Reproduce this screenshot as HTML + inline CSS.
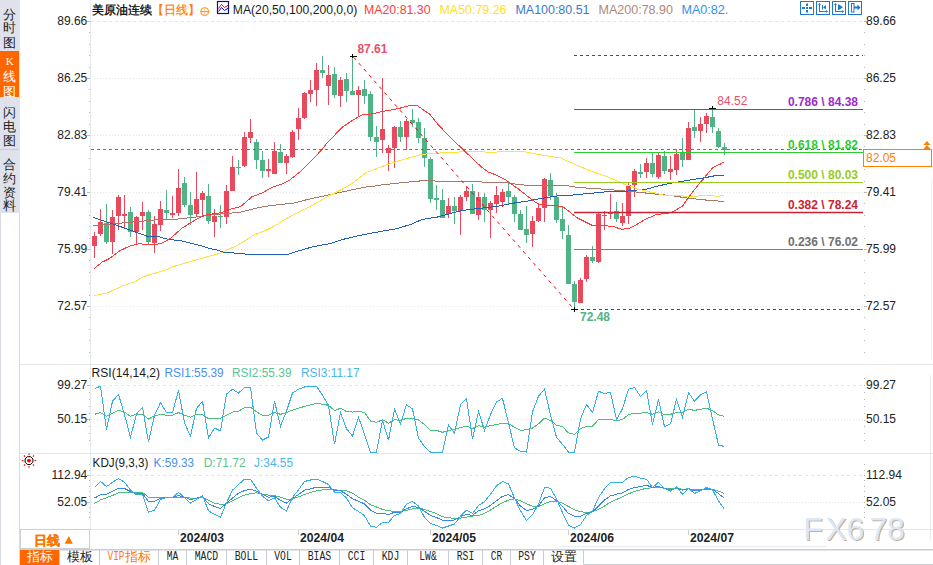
<!DOCTYPE html>
<html><head><meta charset="utf-8"><style>html,body{margin:0;padding:0;width:933px;height:565px;overflow:hidden;background:#fff;font-family:"Liberation Sans",sans-serif}</style></head><body>
<svg width="933" height="565" viewBox="0 0 933 565" style="position:absolute;left:0;top:0;font-family:"Liberation Sans", sans-serif">
<rect x="0" y="0" width="933" height="565" fill="#fff"/>
<rect x="0" y="0" width="20" height="213" fill="#dfe2ea"/>
<rect x="0" y="51" width="19" height="46" fill="#ff6600"/>
<rect x="0" y="149" width="19" height="1" fill="#c9cdd6"/>
<rect x="0" y="213" width="1" height="352" fill="#d8dce4"/>
<rect x="19" y="213" width="1" height="352" fill="#d8dce4"/>
<text x="9.8" y="18.5" font-size="13" fill="#1e1e1e" text-anchor="middle">分</text>
<text x="9.8" y="32" font-size="13" fill="#1e1e1e" text-anchor="middle">时</text>
<text x="9.8" y="46.5" font-size="13" fill="#1e1e1e" text-anchor="middle">图</text>
<text x="9.8" y="65.3" font-size="11" fill="#fff" text-anchor="middle" font-family="Liberation Serif, serif">K</text>
<text x="9.8" y="81" font-size="13" fill="#fff" text-anchor="middle">线</text>
<text x="9.8" y="95.5" font-size="13" fill="#fff" text-anchor="middle">图</text>
<text x="9.8" y="116.5" font-size="13" fill="#1e1e1e" text-anchor="middle">闪</text>
<text x="9.8" y="130.5" font-size="13" fill="#1e1e1e" text-anchor="middle">电</text>
<text x="9.8" y="144.5" font-size="13" fill="#1e1e1e" text-anchor="middle">图</text>
<text x="9.8" y="168.5" font-size="13" fill="#1e1e1e" text-anchor="middle">合</text>
<text x="9.8" y="182.5" font-size="13" fill="#1e1e1e" text-anchor="middle">约</text>
<text x="9.8" y="196.5" font-size="13" fill="#1e1e1e" text-anchor="middle">资</text>
<text x="9.8" y="210" font-size="13" fill="#1e1e1e" text-anchor="middle">料</text>
<rect x="20" y="364" width="913" height="1" fill="#e3e7ec"/>
<rect x="20" y="453" width="913" height="1" fill="#e3e7ec"/>
<rect x="20" y="529" width="913" height="1" fill="#e3e7ec"/>
<rect x="90" y="0" width="1" height="529" fill="#e6eaef"/>
<rect x="931" y="180" width="1" height="180" fill="#eef0f3"/>
<rect x="930" y="375" width="1" height="165" fill="#e8ebf0"/>
<line x1="91" y1="21.5" x2="864" y2="21.5" stroke="#e1e6eb" stroke-width="1" stroke-dasharray="3 3"/>
<rect x="87" y="21" width="3" height="1" fill="#b8bec8"/>
<rect x="864" y="21" width="3" height="1" fill="#b8bec8"/>
<text x="87.3" y="25" font-size="12" fill="#222" text-anchor="end">89.66</text>
<text x="866" y="25" font-size="12" fill="#222">89.66</text>
<line x1="91" y1="78.5" x2="864" y2="78.5" stroke="#e1e6eb" stroke-width="1" stroke-dasharray="1 2"/>
<rect x="87" y="78" width="3" height="1" fill="#b8bec8"/>
<rect x="864" y="78" width="3" height="1" fill="#b8bec8"/>
<text x="87.3" y="82" font-size="12" fill="#222" text-anchor="end">86.25</text>
<text x="866" y="82" font-size="12" fill="#222">86.25</text>
<line x1="91" y1="135.5" x2="864" y2="135.5" stroke="#e1e6eb" stroke-width="1" stroke-dasharray="1 2"/>
<rect x="87" y="135" width="3" height="1" fill="#b8bec8"/>
<rect x="864" y="135" width="3" height="1" fill="#b8bec8"/>
<text x="87.3" y="139" font-size="12" fill="#222" text-anchor="end">82.83</text>
<text x="866" y="139" font-size="12" fill="#222">82.83</text>
<line x1="91" y1="192.5" x2="864" y2="192.5" stroke="#e1e6eb" stroke-width="1" stroke-dasharray="1 2"/>
<rect x="87" y="192" width="3" height="1" fill="#b8bec8"/>
<rect x="864" y="192" width="3" height="1" fill="#b8bec8"/>
<text x="87.3" y="196" font-size="12" fill="#222" text-anchor="end">79.41</text>
<text x="866" y="196" font-size="12" fill="#222">79.41</text>
<line x1="91" y1="249.5" x2="864" y2="249.5" stroke="#e1e6eb" stroke-width="1" stroke-dasharray="1 2"/>
<rect x="87" y="249" width="3" height="1" fill="#b8bec8"/>
<rect x="864" y="249" width="3" height="1" fill="#b8bec8"/>
<text x="87.3" y="253" font-size="12" fill="#222" text-anchor="end">75.99</text>
<text x="866" y="253" font-size="12" fill="#222">75.99</text>
<line x1="91" y1="306.5" x2="864" y2="306.5" stroke="#e1e6eb" stroke-width="1" stroke-dasharray="1 2"/>
<rect x="87" y="306" width="3" height="1" fill="#b8bec8"/>
<rect x="864" y="306" width="3" height="1" fill="#b8bec8"/>
<text x="87.3" y="310" font-size="12" fill="#222" text-anchor="end">72.57</text>
<text x="866" y="310" font-size="12" fill="#222">72.57</text>
<rect x="89" y="21" width="1" height="1" fill="#b0b6c0"/>
<rect x="864" y="21" width="1" height="1" fill="#b0b6c0"/>
<rect x="89" y="32" width="1" height="1" fill="#b0b6c0"/>
<rect x="864" y="32" width="1" height="1" fill="#b0b6c0"/>
<rect x="89" y="44" width="1" height="1" fill="#b0b6c0"/>
<rect x="864" y="44" width="1" height="1" fill="#b0b6c0"/>
<rect x="89" y="55" width="1" height="1" fill="#b0b6c0"/>
<rect x="864" y="55" width="1" height="1" fill="#b0b6c0"/>
<rect x="89" y="67" width="1" height="1" fill="#b0b6c0"/>
<rect x="864" y="67" width="1" height="1" fill="#b0b6c0"/>
<rect x="89" y="78" width="1" height="1" fill="#b0b6c0"/>
<rect x="864" y="78" width="1" height="1" fill="#b0b6c0"/>
<rect x="89" y="89" width="1" height="1" fill="#b0b6c0"/>
<rect x="864" y="89" width="1" height="1" fill="#b0b6c0"/>
<rect x="89" y="101" width="1" height="1" fill="#b0b6c0"/>
<rect x="864" y="101" width="1" height="1" fill="#b0b6c0"/>
<rect x="89" y="112" width="1" height="1" fill="#b0b6c0"/>
<rect x="864" y="112" width="1" height="1" fill="#b0b6c0"/>
<rect x="89" y="124" width="1" height="1" fill="#b0b6c0"/>
<rect x="864" y="124" width="1" height="1" fill="#b0b6c0"/>
<rect x="89" y="135" width="1" height="1" fill="#b0b6c0"/>
<rect x="864" y="135" width="1" height="1" fill="#b0b6c0"/>
<rect x="89" y="146" width="1" height="1" fill="#b0b6c0"/>
<rect x="864" y="146" width="1" height="1" fill="#b0b6c0"/>
<rect x="89" y="158" width="1" height="1" fill="#b0b6c0"/>
<rect x="864" y="158" width="1" height="1" fill="#b0b6c0"/>
<rect x="89" y="169" width="1" height="1" fill="#b0b6c0"/>
<rect x="864" y="169" width="1" height="1" fill="#b0b6c0"/>
<rect x="89" y="181" width="1" height="1" fill="#b0b6c0"/>
<rect x="864" y="181" width="1" height="1" fill="#b0b6c0"/>
<rect x="89" y="192" width="1" height="1" fill="#b0b6c0"/>
<rect x="864" y="192" width="1" height="1" fill="#b0b6c0"/>
<rect x="89" y="203" width="1" height="1" fill="#b0b6c0"/>
<rect x="864" y="203" width="1" height="1" fill="#b0b6c0"/>
<rect x="89" y="215" width="1" height="1" fill="#b0b6c0"/>
<rect x="864" y="215" width="1" height="1" fill="#b0b6c0"/>
<rect x="89" y="226" width="1" height="1" fill="#b0b6c0"/>
<rect x="864" y="226" width="1" height="1" fill="#b0b6c0"/>
<rect x="89" y="238" width="1" height="1" fill="#b0b6c0"/>
<rect x="864" y="238" width="1" height="1" fill="#b0b6c0"/>
<rect x="89" y="249" width="1" height="1" fill="#b0b6c0"/>
<rect x="864" y="249" width="1" height="1" fill="#b0b6c0"/>
<rect x="89" y="260" width="1" height="1" fill="#b0b6c0"/>
<rect x="864" y="260" width="1" height="1" fill="#b0b6c0"/>
<rect x="89" y="272" width="1" height="1" fill="#b0b6c0"/>
<rect x="864" y="272" width="1" height="1" fill="#b0b6c0"/>
<rect x="89" y="283" width="1" height="1" fill="#b0b6c0"/>
<rect x="864" y="283" width="1" height="1" fill="#b0b6c0"/>
<rect x="89" y="295" width="1" height="1" fill="#b0b6c0"/>
<rect x="864" y="295" width="1" height="1" fill="#b0b6c0"/>
<rect x="89" y="306" width="1" height="1" fill="#b0b6c0"/>
<rect x="864" y="306" width="1" height="1" fill="#b0b6c0"/>
<rect x="89" y="317" width="1" height="1" fill="#b0b6c0"/>
<rect x="864" y="317" width="1" height="1" fill="#b0b6c0"/>
<rect x="89" y="329" width="1" height="1" fill="#b0b6c0"/>
<rect x="864" y="329" width="1" height="1" fill="#b0b6c0"/>
<rect x="89" y="340" width="1" height="1" fill="#b0b6c0"/>
<rect x="864" y="340" width="1" height="1" fill="#b0b6c0"/>
<rect x="89" y="352" width="1" height="1" fill="#b0b6c0"/>
<rect x="864" y="352" width="1" height="1" fill="#b0b6c0"/>
<line x1="91" y1="385.5" x2="864" y2="385.5" stroke="#e1e6eb" stroke-width="1" stroke-dasharray="3 3"/>
<rect x="87" y="385" width="3" height="1" fill="#b8bec8"/>
<text x="87.3" y="389" font-size="12" fill="#222" text-anchor="end">99.27</text>
<text x="866" y="389" font-size="12" fill="#222">99.27</text>
<line x1="91" y1="419.5" x2="864" y2="419.5" stroke="#e1e6eb" stroke-width="1" stroke-dasharray="1 2"/>
<rect x="87" y="419" width="3" height="1" fill="#b8bec8"/>
<text x="87.3" y="423" font-size="12" fill="#222" text-anchor="end">50.15</text>
<text x="866" y="423" font-size="12" fill="#222">50.15</text>
<rect x="89" y="378" width="1" height="1" fill="#b0b6c0"/>
<rect x="864" y="378" width="1" height="1" fill="#b0b6c0"/>
<rect x="89" y="385" width="1" height="1" fill="#b0b6c0"/>
<rect x="864" y="385" width="1" height="1" fill="#b0b6c0"/>
<rect x="89" y="392" width="1" height="1" fill="#b0b6c0"/>
<rect x="864" y="392" width="1" height="1" fill="#b0b6c0"/>
<rect x="89" y="399" width="1" height="1" fill="#b0b6c0"/>
<rect x="864" y="399" width="1" height="1" fill="#b0b6c0"/>
<rect x="89" y="406" width="1" height="1" fill="#b0b6c0"/>
<rect x="864" y="406" width="1" height="1" fill="#b0b6c0"/>
<rect x="89" y="413" width="1" height="1" fill="#b0b6c0"/>
<rect x="864" y="413" width="1" height="1" fill="#b0b6c0"/>
<rect x="89" y="420" width="1" height="1" fill="#b0b6c0"/>
<rect x="864" y="420" width="1" height="1" fill="#b0b6c0"/>
<rect x="89" y="426" width="1" height="1" fill="#b0b6c0"/>
<rect x="864" y="426" width="1" height="1" fill="#b0b6c0"/>
<rect x="89" y="433" width="1" height="1" fill="#b0b6c0"/>
<rect x="864" y="433" width="1" height="1" fill="#b0b6c0"/>
<rect x="89" y="440" width="1" height="1" fill="#b0b6c0"/>
<rect x="864" y="440" width="1" height="1" fill="#b0b6c0"/>
<line x1="91" y1="475.5" x2="864" y2="475.5" stroke="#e1e6eb" stroke-width="1" stroke-dasharray="3 3"/>
<rect x="87" y="475" width="3" height="1" fill="#b8bec8"/>
<text x="87.3" y="479" font-size="12" fill="#222" text-anchor="end">112.94</text>
<text x="866" y="479" font-size="12" fill="#222">112.94</text>
<line x1="91" y1="502.5" x2="864" y2="502.5" stroke="#e1e6eb" stroke-width="1" stroke-dasharray="1 2"/>
<rect x="87" y="502" width="3" height="1" fill="#b8bec8"/>
<text x="87.3" y="506" font-size="12" fill="#222" text-anchor="end">52.05</text>
<text x="866" y="506" font-size="12" fill="#222">52.05</text>
<rect x="89" y="464" width="1" height="1" fill="#b0b6c0"/>
<rect x="864" y="464" width="1" height="1" fill="#b0b6c0"/>
<rect x="89" y="470" width="1" height="1" fill="#b0b6c0"/>
<rect x="864" y="470" width="1" height="1" fill="#b0b6c0"/>
<rect x="89" y="475" width="1" height="1" fill="#b0b6c0"/>
<rect x="864" y="475" width="1" height="1" fill="#b0b6c0"/>
<rect x="89" y="480" width="1" height="1" fill="#b0b6c0"/>
<rect x="864" y="480" width="1" height="1" fill="#b0b6c0"/>
<rect x="89" y="486" width="1" height="1" fill="#b0b6c0"/>
<rect x="864" y="486" width="1" height="1" fill="#b0b6c0"/>
<rect x="89" y="491" width="1" height="1" fill="#b0b6c0"/>
<rect x="864" y="491" width="1" height="1" fill="#b0b6c0"/>
<rect x="89" y="496" width="1" height="1" fill="#b0b6c0"/>
<rect x="864" y="496" width="1" height="1" fill="#b0b6c0"/>
<rect x="89" y="502" width="1" height="1" fill="#b0b6c0"/>
<rect x="864" y="502" width="1" height="1" fill="#b0b6c0"/>
<rect x="89" y="507" width="1" height="1" fill="#b0b6c0"/>
<rect x="864" y="507" width="1" height="1" fill="#b0b6c0"/>
<rect x="89" y="512" width="1" height="1" fill="#b0b6c0"/>
<rect x="864" y="512" width="1" height="1" fill="#b0b6c0"/>
<rect x="89" y="517" width="1" height="1" fill="#b0b6c0"/>
<rect x="864" y="517" width="1" height="1" fill="#b0b6c0"/>
<text x="92" y="14" font-size="12" fill="#000" stroke="#000" stroke-width="0.3">美原油连续</text>
<text x="152" y="14" font-size="12" fill="#ff7a00" stroke="#ff7a00" stroke-width="0.2">【日线】</text>
<circle cx="204.7" cy="11.6" r="4" fill="none" stroke="#ff8a10" stroke-width="1"/>
<line x1="200.7" y1="11.6" x2="208.7" y2="11.6" stroke="#ff8a10" stroke-width="1"/>
<line x1="204.7" y1="7.6" x2="204.7" y2="15.6" stroke="#ffb060" stroke-width="0.7"/>
<rect x="217.5" y="1.5" width="11" height="12" fill="#fff" stroke="#101080" stroke-width="1.2"/>
<polyline points="218.5,8.5 221.5,4.3 224.5,7.5 228,5.4" fill="none" stroke="#ff0000" stroke-width="1"/>
<polyline points="218.5,11.5 221.5,7.5 224.5,10.5 228,8.3" fill="none" stroke="#0000ff" stroke-width="1"/>
<text x="232.8" y="14" font-size="12" fill="#1a1a1a" textLength="124.5" lengthAdjust="spacingAndGlyphs">MA(20,50,100,200,0,0)</text>
<text x="364" y="14" font-size="12" fill="#ff3b3b" textLength="66.5" lengthAdjust="spacingAndGlyphs">MA20:81.30</text>
<text x="439.5" y="14" font-size="12" fill="#ffe02a" textLength="67" lengthAdjust="spacingAndGlyphs">MA50:79.26</text>
<text x="515.5" y="14" font-size="12" fill="#3a78c8" textLength="74" lengthAdjust="spacingAndGlyphs">MA100:80.51</text>
<text x="598.5" y="14" font-size="12" fill="#b08878" textLength="74.5" lengthAdjust="spacingAndGlyphs">MA200:78.90</text>
<text x="681.5" y="14" font-size="12" fill="#3090f0" textLength="46.8" lengthAdjust="spacingAndGlyphs">MA0:82.</text>
<rect x="800.5" y="1.5" width="13" height="13" fill="#fff" stroke="#1f78d0" stroke-width="1"/>
<rect x="816.5" y="1.5" width="13" height="13" fill="#fff" stroke="#1f78d0" stroke-width="1"/>
<rect x="832.5" y="1.5" width="13" height="13" fill="#fff" stroke="#1f78d0" stroke-width="1"/>
<rect x="848.5" y="1.5" width="13" height="13" fill="#fff" stroke="#1f78d0" stroke-width="1"/>
<rect x="806" y="3.5" width="2" height="2.5" fill="#1f78d0"/><rect x="806" y="10" width="2" height="2.5" fill="#1f78d0"/>
<rect x="802" y="7" width="3" height="2" fill="#1f78d0"/><rect x="809" y="7" width="3" height="2" fill="#1f78d0"/><rect x="806" y="7" width="2" height="2" fill="#1f78d0"/>
<g stroke="#1f78d0" stroke-width="1" fill="none"><line x1="819.5" y1="3.5" x2="819.5" y2="12"/><line x1="819" y1="11.5" x2="827.5" y2="11.5"/><line x1="822.5" y1="5" x2="822.5" y2="9.5"/></g>
<polygon points="818,5 819.5,3 821,5" fill="#1f78d0"/><polygon points="826,10 828,11.5 826,13" fill="#1f78d0"/><polygon points="823,7.2 826,5 826,9.5" fill="#1f78d0"/>
<g stroke="#1f78d0" stroke-width="1" fill="none"><line x1="835.5" y1="3.5" x2="835.5" y2="12"/><line x1="835" y1="11.5" x2="843.5" y2="11.5"/><line x1="838.5" y1="4.5" x2="838.5" y2="10"/></g>
<polygon points="834,5 835.5,3 837,5" fill="#1f78d0"/><polygon points="842,10 844,11.5 842,13" fill="#1f78d0"/><polygon points="839,4.5 843,7.2 839,10" fill="#1f78d0"/>
<g stroke="#1f78d0" stroke-width="1" fill="none"><rect x="851.5" y="3.5" width="2.5" height="8.5"/></g>
<rect x="854" y="6.5" width="4" height="2" fill="#1f78d0"/><polygon points="857.5,4.5 860.5,7.5 857.5,10.5" fill="#1f78d0"/>
<rect x="94" y="232" width="1" height="26" fill="#e9495d"/>
<rect x="92" y="236" width="5" height="10" fill="#e9495d"/>
<rect x="100" y="209" width="1" height="27" fill="#e9495d"/>
<rect x="98" y="222" width="5" height="12" fill="#e9495d"/>
<rect x="106" y="204" width="1" height="40" fill="#4fb386"/>
<rect x="104" y="223" width="5" height="19" fill="#4fb386"/>
<rect x="112" y="210" width="1" height="44" fill="#e9495d"/>
<rect x="110" y="217" width="5" height="25" fill="#e9495d"/>
<rect x="118" y="195" width="1" height="35" fill="#e9495d"/>
<rect x="116" y="197" width="5" height="19" fill="#e9495d"/>
<rect x="124" y="195" width="1" height="34" fill="#e9495d"/>
<rect x="122" y="214" width="5" height="2" fill="#e9495d"/>
<rect x="130" y="207" width="1" height="30" fill="#4fb386"/>
<rect x="128" y="212" width="5" height="20" fill="#4fb386"/>
<rect x="136" y="216" width="1" height="28" fill="#e9495d"/>
<rect x="134" y="217" width="5" height="15" fill="#e9495d"/>
<rect x="142" y="202" width="1" height="28" fill="#e9495d"/>
<rect x="140" y="212" width="5" height="4" fill="#e9495d"/>
<rect x="148" y="210" width="1" height="34" fill="#4fb386"/>
<rect x="146" y="212" width="5" height="30" fill="#4fb386"/>
<rect x="154" y="216" width="1" height="37" fill="#e9495d"/>
<rect x="152" y="224" width="5" height="19" fill="#e9495d"/>
<rect x="160" y="201" width="1" height="30" fill="#e9495d"/>
<rect x="158" y="209" width="5" height="16" fill="#e9495d"/>
<rect x="166" y="190" width="1" height="29" fill="#4fb386"/>
<rect x="164" y="210" width="5" height="3" fill="#4fb386"/>
<rect x="172" y="196" width="1" height="22" fill="#e9495d"/>
<rect x="170" y="213" width="5" height="2" fill="#e9495d"/>
<rect x="178" y="169" width="1" height="47" fill="#e9495d"/>
<rect x="176" y="188" width="5" height="25" fill="#e9495d"/>
<rect x="184" y="177" width="1" height="30" fill="#4fb386"/>
<rect x="182" y="183" width="5" height="22" fill="#4fb386"/>
<rect x="190" y="192" width="1" height="33" fill="#4fb386"/>
<rect x="188" y="205" width="5" height="10" fill="#4fb386"/>
<rect x="196" y="172" width="1" height="45" fill="#e9495d"/>
<rect x="194" y="199" width="5" height="15" fill="#e9495d"/>
<rect x="202" y="191" width="1" height="25" fill="#e9495d"/>
<rect x="200" y="193" width="5" height="7" fill="#e9495d"/>
<rect x="208" y="184" width="1" height="40" fill="#4fb386"/>
<rect x="206" y="196" width="5" height="25" fill="#4fb386"/>
<rect x="214" y="209" width="1" height="28" fill="#e9495d"/>
<rect x="212" y="216" width="5" height="6" fill="#e9495d"/>
<rect x="220" y="205" width="1" height="23" fill="#4fb386"/>
<rect x="218" y="216" width="5" height="1" fill="#4fb386"/>
<rect x="226" y="185" width="1" height="39" fill="#e9495d"/>
<rect x="224" y="191" width="5" height="26" fill="#e9495d"/>
<rect x="232" y="156" width="1" height="35" fill="#e9495d"/>
<rect x="230" y="167" width="5" height="24" fill="#e9495d"/>
<rect x="238" y="160" width="1" height="15" fill="#4fb386"/>
<rect x="236" y="167" width="5" height="1" fill="#4fb386"/>
<rect x="244" y="132" width="1" height="35" fill="#e9495d"/>
<rect x="242" y="137" width="5" height="29" fill="#e9495d"/>
<rect x="250" y="119" width="1" height="24" fill="#e9495d"/>
<rect x="248" y="132" width="5" height="6" fill="#e9495d"/>
<rect x="256" y="139" width="1" height="30" fill="#4fb386"/>
<rect x="254" y="142" width="5" height="18" fill="#4fb386"/>
<rect x="262" y="151" width="1" height="27" fill="#4fb386"/>
<rect x="260" y="160" width="5" height="11" fill="#4fb386"/>
<rect x="268" y="159" width="1" height="18" fill="#e9495d"/>
<rect x="266" y="169" width="5" height="2" fill="#e9495d"/>
<rect x="274" y="142" width="1" height="32" fill="#e9495d"/>
<rect x="272" y="151" width="5" height="23" fill="#e9495d"/>
<rect x="280" y="144" width="1" height="19" fill="#4fb386"/>
<rect x="278" y="152" width="5" height="11" fill="#4fb386"/>
<rect x="286" y="154" width="1" height="20" fill="#e9495d"/>
<rect x="284" y="156" width="5" height="7" fill="#e9495d"/>
<rect x="292" y="130" width="1" height="28" fill="#e9495d"/>
<rect x="290" y="132" width="5" height="25" fill="#e9495d"/>
<rect x="298" y="108" width="1" height="32" fill="#e9495d"/>
<rect x="296" y="118" width="5" height="11" fill="#e9495d"/>
<rect x="304" y="92" width="1" height="27" fill="#e9495d"/>
<rect x="302" y="93" width="5" height="25" fill="#e9495d"/>
<rect x="310" y="80" width="1" height="22" fill="#e9495d"/>
<rect x="308" y="90" width="5" height="4" fill="#e9495d"/>
<rect x="316" y="63" width="1" height="43" fill="#e9495d"/>
<rect x="314" y="70" width="5" height="20" fill="#e9495d"/>
<rect x="322" y="56" width="1" height="22" fill="#4fb386"/>
<rect x="320" y="70" width="5" height="3" fill="#4fb386"/>
<rect x="328" y="65" width="1" height="40" fill="#e9495d"/>
<rect x="326" y="75" width="5" height="11" fill="#e9495d"/>
<rect x="334" y="67" width="1" height="31" fill="#4fb386"/>
<rect x="332" y="74" width="5" height="21" fill="#4fb386"/>
<rect x="340" y="77" width="1" height="30" fill="#e9495d"/>
<rect x="338" y="80" width="5" height="16" fill="#e9495d"/>
<rect x="346" y="73" width="1" height="29" fill="#4fb386"/>
<rect x="344" y="79" width="5" height="12" fill="#4fb386"/>
<rect x="352" y="56" width="1" height="39" fill="#4fb386"/>
<rect x="350" y="91" width="5" height="4" fill="#4fb386"/>
<rect x="358" y="86" width="1" height="31" fill="#e9495d"/>
<rect x="356" y="90" width="5" height="5" fill="#e9495d"/>
<rect x="364" y="80" width="1" height="24" fill="#4fb386"/>
<rect x="362" y="89" width="5" height="7" fill="#4fb386"/>
<rect x="370" y="91" width="1" height="50" fill="#4fb386"/>
<rect x="368" y="94" width="5" height="43" fill="#4fb386"/>
<rect x="376" y="126" width="1" height="31" fill="#4fb386"/>
<rect x="374" y="137" width="5" height="5" fill="#4fb386"/>
<rect x="382" y="78" width="1" height="75" fill="#e9495d"/>
<rect x="380" y="129" width="5" height="11" fill="#e9495d"/>
<rect x="388" y="145" width="1" height="26" fill="#e9495d"/>
<rect x="386" y="148" width="5" height="5" fill="#e9495d"/>
<rect x="394" y="126" width="1" height="42" fill="#e9495d"/>
<rect x="392" y="127" width="5" height="21" fill="#e9495d"/>
<rect x="400" y="121" width="1" height="21" fill="#4fb386"/>
<rect x="398" y="127" width="5" height="10" fill="#4fb386"/>
<rect x="406" y="119" width="1" height="31" fill="#e9495d"/>
<rect x="404" y="121" width="5" height="16" fill="#e9495d"/>
<rect x="412" y="109" width="1" height="18" fill="#4fb386"/>
<rect x="410" y="120" width="5" height="3" fill="#4fb386"/>
<rect x="418" y="118" width="1" height="25" fill="#4fb386"/>
<rect x="416" y="122" width="5" height="16" fill="#4fb386"/>
<rect x="424" y="128" width="1" height="39" fill="#4fb386"/>
<rect x="422" y="138" width="5" height="20" fill="#4fb386"/>
<rect x="430" y="157" width="1" height="46" fill="#4fb386"/>
<rect x="428" y="159" width="5" height="40" fill="#4fb386"/>
<rect x="436" y="185" width="1" height="25" fill="#4fb386"/>
<rect x="434" y="198" width="5" height="2" fill="#4fb386"/>
<rect x="442" y="189" width="1" height="29" fill="#4fb386"/>
<rect x="440" y="200" width="5" height="18" fill="#4fb386"/>
<rect x="448" y="198" width="1" height="20" fill="#e9495d"/>
<rect x="446" y="206" width="5" height="8" fill="#e9495d"/>
<rect x="454" y="197" width="1" height="27" fill="#4fb386"/>
<rect x="452" y="206" width="5" height="5" fill="#4fb386"/>
<rect x="460" y="195" width="1" height="40" fill="#e9495d"/>
<rect x="458" y="197" width="5" height="14" fill="#e9495d"/>
<rect x="466" y="186" width="1" height="15" fill="#e9495d"/>
<rect x="464" y="191" width="5" height="6" fill="#e9495d"/>
<rect x="472" y="184" width="1" height="30" fill="#4fb386"/>
<rect x="470" y="191" width="5" height="23" fill="#4fb386"/>
<rect x="478" y="192" width="1" height="28" fill="#e9495d"/>
<rect x="476" y="197" width="5" height="18" fill="#e9495d"/>
<rect x="484" y="193" width="1" height="29" fill="#4fb386"/>
<rect x="482" y="197" width="5" height="13" fill="#4fb386"/>
<rect x="490" y="201" width="1" height="37" fill="#e9495d"/>
<rect x="488" y="203" width="5" height="7" fill="#e9495d"/>
<rect x="496" y="186" width="1" height="27" fill="#e9495d"/>
<rect x="494" y="195" width="5" height="9" fill="#e9495d"/>
<rect x="502" y="189" width="1" height="18" fill="#e9495d"/>
<rect x="500" y="192" width="5" height="10" fill="#e9495d"/>
<rect x="508" y="182" width="1" height="22" fill="#4fb386"/>
<rect x="506" y="191" width="5" height="6" fill="#4fb386"/>
<rect x="514" y="195" width="1" height="27" fill="#4fb386"/>
<rect x="512" y="197" width="5" height="17" fill="#4fb386"/>
<rect x="520" y="210" width="1" height="20" fill="#4fb386"/>
<rect x="518" y="214" width="5" height="16" fill="#4fb386"/>
<rect x="526" y="206" width="1" height="37" fill="#4fb386"/>
<rect x="524" y="229" width="5" height="6" fill="#4fb386"/>
<rect x="532" y="216" width="1" height="31" fill="#e9495d"/>
<rect x="530" y="221" width="5" height="13" fill="#e9495d"/>
<rect x="538" y="204" width="1" height="18" fill="#e9495d"/>
<rect x="536" y="208" width="5" height="13" fill="#e9495d"/>
<rect x="544" y="178" width="1" height="44" fill="#e9495d"/>
<rect x="542" y="179" width="5" height="29" fill="#e9495d"/>
<rect x="550" y="173" width="1" height="27" fill="#4fb386"/>
<rect x="548" y="180" width="5" height="16" fill="#4fb386"/>
<rect x="556" y="193" width="1" height="30" fill="#4fb386"/>
<rect x="554" y="197" width="5" height="23" fill="#4fb386"/>
<rect x="562" y="206" width="1" height="33" fill="#4fb386"/>
<rect x="560" y="219" width="5" height="12" fill="#4fb386"/>
<rect x="568" y="225" width="1" height="59" fill="#4fb386"/>
<rect x="566" y="235" width="5" height="49" fill="#4fb386"/>
<rect x="574" y="281" width="1" height="28" fill="#4fb386"/>
<rect x="572" y="284" width="5" height="18" fill="#4fb386"/>
<rect x="580" y="278" width="1" height="25" fill="#e9495d"/>
<rect x="578" y="280" width="5" height="23" fill="#e9495d"/>
<rect x="586" y="255" width="1" height="27" fill="#e9495d"/>
<rect x="584" y="257" width="5" height="22" fill="#e9495d"/>
<rect x="592" y="246" width="1" height="17" fill="#4fb386"/>
<rect x="590" y="257" width="5" height="4" fill="#4fb386"/>
<rect x="598" y="213" width="1" height="50" fill="#e9495d"/>
<rect x="596" y="214" width="5" height="48" fill="#e9495d"/>
<rect x="604" y="211" width="1" height="19" fill="#e9495d"/>
<rect x="602" y="215" width="5" height="1" fill="#e9495d"/>
<rect x="610" y="194" width="1" height="25" fill="#e9495d"/>
<rect x="608" y="212" width="5" height="2" fill="#e9495d"/>
<rect x="616" y="202" width="1" height="20" fill="#4fb386"/>
<rect x="614" y="211" width="5" height="8" fill="#4fb386"/>
<rect x="622" y="203" width="1" height="23" fill="#e9495d"/>
<rect x="620" y="216" width="5" height="7" fill="#e9495d"/>
<rect x="628" y="183" width="1" height="41" fill="#e9495d"/>
<rect x="626" y="185" width="5" height="31" fill="#e9495d"/>
<rect x="634" y="169" width="1" height="28" fill="#e9495d"/>
<rect x="632" y="171" width="5" height="14" fill="#e9495d"/>
<rect x="640" y="164" width="1" height="14" fill="#4fb386"/>
<rect x="638" y="172" width="5" height="2" fill="#4fb386"/>
<rect x="646" y="158" width="1" height="20" fill="#e9495d"/>
<rect x="644" y="163" width="5" height="9" fill="#e9495d"/>
<rect x="652" y="153" width="1" height="24" fill="#4fb386"/>
<rect x="650" y="163" width="5" height="11" fill="#4fb386"/>
<rect x="658" y="153" width="1" height="26" fill="#e9495d"/>
<rect x="656" y="155" width="5" height="22" fill="#e9495d"/>
<rect x="664" y="151" width="1" height="23" fill="#4fb386"/>
<rect x="662" y="156" width="5" height="15" fill="#4fb386"/>
<rect x="670" y="156" width="1" height="24" fill="#e9495d"/>
<rect x="668" y="169" width="5" height="3" fill="#e9495d"/>
<rect x="676" y="149" width="1" height="26" fill="#e9495d"/>
<rect x="674" y="154" width="5" height="16" fill="#e9495d"/>
<rect x="682" y="138" width="1" height="29" fill="#4fb386"/>
<rect x="680" y="152" width="5" height="8" fill="#4fb386"/>
<rect x="688" y="122" width="1" height="38" fill="#e9495d"/>
<rect x="686" y="128" width="5" height="32" fill="#e9495d"/>
<rect x="694" y="109" width="1" height="29" fill="#4fb386"/>
<rect x="692" y="127" width="5" height="4" fill="#4fb386"/>
<rect x="700" y="117" width="1" height="25" fill="#e9495d"/>
<rect x="698" y="124" width="5" height="7" fill="#e9495d"/>
<rect x="706" y="113" width="1" height="20" fill="#e9495d"/>
<rect x="704" y="116" width="5" height="8" fill="#e9495d"/>
<rect x="712" y="106" width="1" height="27" fill="#4fb386"/>
<rect x="710" y="117" width="5" height="10" fill="#4fb386"/>
<rect x="718" y="128" width="1" height="20" fill="#4fb386"/>
<rect x="716" y="131" width="5" height="16" fill="#4fb386"/>
<rect x="724" y="143" width="1" height="12" fill="#4fb386"/>
<rect x="722" y="147" width="5" height="3" fill="#4fb386"/>
<polyline points="93.0,225.6 140.0,221.4 157.0,219.8 175.1,219.3 186.8,218.0 199.5,216.6 205.9,215.5 220.0,214.1 240.0,212.3 259.2,207.5 272.0,205.4 294.0,203.1 307.8,199.4 330.1,194.6 347.1,190.9 367.3,186.7 374.0,186.1 384.9,184.5 397.6,183.2 415.7,181.3 427.4,180.4 440.7,181.5 481.6,181.5 482.7,182.3 500.0,182.3 510.0,183.1 518.3,184.5 530.0,185.5 565.4,185.5 578.4,187.5 596.1,188.7 607.9,189.5 620.0,190.5 637.0,192.1 651.9,193.7 667.4,195.3 673.1,195.8 686.6,198.0 698.2,199.2 711.7,200.7 723.8,201.3" fill="none" stroke="#a57868" stroke-width="1" shape-rendering="crispEdges" />
<polyline points="93.0,217.3 120.0,226.5 140.0,233.6 147.4,236.3 157.0,236.3 169.8,239.7 180.4,240.5 188.9,242.8 199.5,245.3 209.1,248.5 215.0,249.4 222.7,252.0 235.6,253.2 248.4,254.3 288.3,254.3 297.3,251.3 312.7,246.8 330.0,243.6 342.9,239.4 362.2,234.9 381.4,231.3 396.9,228.7 412.3,223.9 420.0,220.3 427.7,218.4 436.0,217.4 443.7,215.4 460.1,210.9 469.8,209.5 487.1,207.5 498.7,206.1 511.2,203.5 526.0,201.3 532.5,200.1 541.0,198.5 558.0,195.8 570.0,195.3 577.2,194.6 589.0,193.4 600.8,192.5 607.9,191.4 626.0,191.4 631.4,190.5 637.0,190.0 647.6,188.9 657.2,186.2 661.6,185.2 672.2,183.0 681.8,181.4 692.4,179.5 704.0,177.9 715.6,175.6 723.8,175.3" fill="none" stroke="#1f5fb8" stroke-width="1" shape-rendering="crispEdges" />
<polyline points="94.2,295.5 107.1,293.1 123.0,285.7 135.8,281.4 143.3,276.7 150.1,274.5 153.9,273.5 168.0,269.2 171.9,267.1 193.1,260.7 220.0,253.3 238.2,244.9 253.6,235.2 266.4,230.1 277.3,224.5 281.9,221.1 297.3,212.7 304.1,209.5 312.7,205.0 330.1,195.2 348.2,186.1 366.3,172.8 374.0,169.6 388.0,164.3 405.0,159.0 422.0,154.2 436.0,153.5 445.0,152.4 462.6,151.9 481.7,151.3 487.0,152.4 516.0,151.3 523.6,151.3 530.0,152.9 547.7,156.0 560.7,158.0 574.9,164.5 592.5,171.6 606.3,176.4 619.4,181.7 624.3,184.5 630.0,185.9 637.0,188.9 650.8,192.1 664.6,195.3 675.0,195.8 690.5,196.2 712.7,195.6 717.5,196.5 723.8,195.3" fill="none" stroke="#ffe23c" stroke-width="1" shape-rendering="crispEdges" />
<polyline points="94.0,268.7 101.8,262.3 109.3,258.6 119.9,250.6 130.5,245.8 139.0,243.7 146.4,244.5 156.0,244.3 161.3,243.5 170.8,238.2 181.4,228.6 190.0,223.0 199.5,217.7 205.9,215.0 216.5,213.4 222.0,212.6 228.4,209.6 238.5,207.3 242.7,204.9 251.7,196.9 262.4,192.8 272.0,187.3 281.5,184.1 290.0,179.9 294.0,176.6 302.0,170.2 307.3,164.9 321.6,150.0 327.0,143.0 342.9,126.6 350.3,121.8 358.8,116.5 363.0,114.3 370.0,114.2 381.7,111.7 398.7,108.5 410.4,105.3 417.8,106.0 429.5,114.0 439.1,125.7 450.0,136.9 462.6,149.2 480.6,166.2 488.1,172.1 495.5,174.7 505.1,179.5 508.0,181.5 517.6,188.4 534.6,201.7 540.0,204.9 550.0,205.1 562.8,206.6 577.6,218.1 592.5,225.5 601.0,225.5 613.5,226.4 618.8,228.5 622.4,229.3 629.5,228.2 636.5,224.6 645.4,219.3 656.9,214.3 666.6,213.6 671.9,212.3 682.6,206.1 689.5,196.0 700.1,182.5 703.1,179.3 709.1,171.8 713.4,167.2 719.7,164.4 723.6,162.3" fill="none" stroke="#ff3838" stroke-width="1" shape-rendering="crispEdges" />
<line x1="91" y1="149.5" x2="863" y2="149.5" stroke="#1e88f0" stroke-width="1.2" stroke-dasharray="3 3"/>
<line x1="574" y1="55.5" x2="863" y2="55.5" stroke="#ff0000" stroke-width="1.2" stroke-dasharray="3 3"/>
<line x1="575" y1="309.5" x2="863" y2="309.5" stroke="#ff0000" stroke-width="1.2" stroke-dasharray="3 3"/>
<line x1="574" y1="109.5" x2="863" y2="109.5" stroke="#9a2ccc" stroke-width="1.2"/>
<line x1="574" y1="152.5" x2="863" y2="152.5" stroke="#2ecc2e" stroke-width="1.2"/>
<line x1="574" y1="182.5" x2="863" y2="182.5" stroke="#99cc22" stroke-width="1.2"/>
<line x1="574" y1="212.5" x2="863" y2="212.5" stroke="#cc2233" stroke-width="1.3"/>
<line x1="574" y1="249.5" x2="863" y2="249.5" stroke="#808080" stroke-width="1.2"/>
<line x1="353" y1="56.5" x2="574" y2="309.3" stroke="#ff0000" stroke-width="1" stroke-dasharray="3.4 4.4" stroke-dashoffset="-1"/>
<text x="858" y="105.5" font-size="12" font-weight="bold" fill="#9a2ccc" text-anchor="end">0.786 \ 84.38</text>
<text x="858" y="149.2" font-size="12" font-weight="bold" fill="#2ecc2e" text-anchor="end">0.618 \ 81.82</text>
<text x="858" y="178.7" font-size="12" font-weight="bold" fill="#99cc22" text-anchor="end">0.500 \ 80.03</text>
<text x="858" y="208.7" font-size="12" font-weight="bold" fill="#cc2233" text-anchor="end">0.382 \ 78.24</text>
<text x="858" y="245.6" font-size="12" font-weight="bold" fill="#707070" text-anchor="end">0.236 \ 76.02</text>
<text x="357.4" y="53" font-size="12" font-weight="bold" fill="#e8506a">87.61</text>
<rect x="350" y="56" width="7" height="1" fill="#000"/><rect x="352" y="54" width="1" height="4" fill="#000"/>
<text x="717.3" y="105" font-size="12" fill="#e8506a">84.52</text>
<rect x="709" y="108" width="7" height="1" fill="#000"/><rect x="712" y="106" width="1" height="3" fill="#000"/>
<text x="580" y="320.5" font-size="12" font-weight="bold" fill="#4fb386">72.48</text>
<rect x="571" y="309" width="7" height="1" fill="#000"/><rect x="574" y="307" width="1" height="5" fill="#000"/>
<rect x="863.5" y="149.5" width="68" height="17" fill="#fff" stroke="#ff8000" stroke-width="1"/>
<text x="866" y="162" font-size="12" fill="#ff8000">82.05</text>
<polygon points="923.5,145 927,141 930.5,145" fill="#ff8000"/><polygon points="923.5,149 927,145 930.5,149" fill="#ff8000"/>
<polyline points="94.5,414.3 100.5,412.5 106.5,416.3 112.5,413.2 118.5,410.4 124.5,412.1 130.5,416.3 136.5,414.3 142.5,414.3 148.5,419.1 154.5,415.8 160.5,414.3 166.5,415.3 172.5,415.3 178.5,412.5 184.5,415.3 190.5,417.2 196.5,414.3 202.5,414.5 208.5,418.6 214.5,418.2 220.5,418.2 226.5,415.3 232.5,412.1 238.5,411.1 244.5,407.8 250.5,407.3 256.5,411.8 262.5,415.3 268.5,415.3 274.5,412.5 280.5,414.3 286.5,412.5 292.5,410.1 298.5,408.3 304.5,406.4 310.5,405.0 316.5,403.3 322.5,404.2 328.5,405.4 334.5,410.4 340.5,408.3 346.5,411.5 352.5,412.1 358.5,411.5 364.5,412.5 370.5,421.0 376.5,422.4 382.5,419.6 388.5,423.1 394.5,419.6 400.5,420.6 406.5,418.2 412.5,418.2 418.5,420.0 424.5,424.5 430.5,430.2 436.5,430.4 442.5,432.3 448.5,430.5 454.5,429.5 460.5,427.6 466.5,426.2 472.5,428.5 478.5,425.7 484.5,427.1 490.5,425.7 496.5,424.5 502.5,423.4 508.5,423.8 514.5,427.1 520.5,430.2 526.5,429.9 532.5,428.1 538.5,423.8 544.5,418.2 550.5,420.5 556.5,425.2 562.5,426.6 568.5,433.0 574.5,434.4 580.5,428.8 586.5,426.2 592.5,426.2 598.5,419.6 604.5,419.6 610.5,419.6 616.5,420.6 622.5,419.6 628.5,414.6 634.5,413.2 640.5,413.2 646.5,412.5 652.5,414.3 658.5,411.7 664.5,414.8 670.5,414.3 676.5,412.5 682.5,412.5 688.5,409.2 694.5,410.4 700.5,409.2 706.5,408.3 712.5,410.4 718.5,414.9 724.5,416.3" fill="none" stroke="#4a8ff0" stroke-width="1" shape-rendering="crispEdges" />
<polyline points="94.5,414.3 100.5,412.5 106.5,416.3 112.5,413.2 118.5,410.4 124.5,412.1 130.5,416.3 136.5,414.3 142.5,414.3 148.5,419.1 154.5,415.8 160.5,414.3 166.5,415.3 172.5,415.3 178.5,412.5 184.5,415.3 190.5,417.2 196.5,414.3 202.5,414.5 208.5,418.6 214.5,418.2 220.5,418.2 226.5,415.3 232.5,412.1 238.5,411.1 244.5,407.8 250.5,407.3 256.5,411.8 262.5,415.3 268.5,415.3 274.5,412.5 280.5,414.3 286.5,412.5 292.5,410.1 298.5,408.3 304.5,406.4 310.5,405.0 316.5,403.3 322.5,404.2 328.5,405.4 334.5,410.4 340.5,408.3 346.5,411.5 352.5,412.1 358.5,411.5 364.5,412.5 370.5,421.0 376.5,422.4 382.5,419.6 388.5,423.1 394.5,419.6 400.5,420.6 406.5,418.2 412.5,418.2 418.5,420.0 424.5,424.5 430.5,430.2 436.5,430.4 442.5,432.3 448.5,430.5 454.5,429.5 460.5,427.6 466.5,426.2 472.5,428.5 478.5,425.7 484.5,427.1 490.5,425.7 496.5,424.5 502.5,423.4 508.5,423.8 514.5,427.1 520.5,430.2 526.5,429.9 532.5,428.1 538.5,423.8 544.5,418.2 550.5,420.5 556.5,425.2 562.5,426.6 568.5,433.0 574.5,434.4 580.5,428.8 586.5,426.2 592.5,426.2 598.5,419.6 604.5,419.6 610.5,419.6 616.5,420.6 622.5,419.6 628.5,414.6 634.5,413.2 640.5,413.2 646.5,412.5 652.5,414.3 658.5,411.7 664.5,414.8 670.5,414.3 676.5,412.5 682.5,412.5 688.5,409.2 694.5,410.4 700.5,409.2 706.5,408.3 712.5,410.4 718.5,414.9 724.5,416.3" fill="none" stroke="#4cc07a" stroke-width="1" shape-rendering="crispEdges" />
<polyline points="94.5,388.4 100.5,386.3 106.5,429.5 112.5,401.2 118.5,394.5 124.5,414.6 130.5,437.3 136.5,413.9 142.5,407.5 148.5,442.2 154.5,415.3 160.5,402.6 166.5,412.5 172.5,412.5 178.5,390.3 184.5,423.1 190.5,436.1 196.5,408.3 202.5,401.4 208.5,437.9 214.5,428.1 220.5,430.9 226.5,394.1 232.5,389.2 238.5,393.1 244.5,387.5 250.5,387.5 256.5,433.0 262.5,440.1 268.5,437.0 274.5,401.2 280.5,426.2 286.5,411.1 292.5,393.1 298.5,389.2 304.5,387.0 310.5,386.3 316.5,386.2 322.5,395.2 328.5,405.4 334.5,444.3 340.5,412.5 346.5,428.8 352.5,436.1 358.5,417.2 364.5,434.4 370.5,452.1 376.5,452.1 382.5,420.3 388.5,440.1 394.5,409.2 400.5,423.8 406.5,404.7 412.5,409.0 418.5,438.0 424.5,446.5 430.5,452.1 436.5,452.1 442.5,452.1 448.5,425.2 454.5,433.0 460.5,404.7 466.5,398.3 472.5,439.4 478.5,411.5 484.5,430.2 490.5,414.6 496.5,401.9 502.5,398.3 508.5,423.1 514.5,447.9 520.5,451.4 526.5,452.1 532.5,411.8 538.5,396.2 544.5,389.2 550.5,414.8 556.5,437.3 562.5,444.3 568.5,452.1 574.5,452.1 580.5,418.9 586.5,404.4 592.5,412.5 598.5,391.3 604.5,393.4 610.5,392.3 616.5,419.6 622.5,408.7 628.5,389.2 634.5,387.5 640.5,396.5 646.5,390.3 652.5,424.5 658.5,399.5 664.5,426.7 670.5,423.8 676.5,399.3 682.5,417.2 688.5,392.7 694.5,401.2 700.5,394.8 706.5,391.7 712.5,418.9 718.5,445.0 724.5,446.5" fill="none" stroke="#36aee6" stroke-width="1" shape-rendering="crispEdges" />
<text x="91.6" y="377" font-size="12" fill="#1a1a1a" textLength="68.4" lengthAdjust="spacingAndGlyphs">RSI(14,14,2)</text>
<text x="164.5" y="377" font-size="12" fill="#4a8ff0" textLength="59.2" lengthAdjust="spacingAndGlyphs">RSI1:55.39</text>
<text x="232" y="377" font-size="12" fill="#5ec48f" textLength="59.5" lengthAdjust="spacingAndGlyphs">RSI2:55.39</text>
<text x="301" y="377" font-size="12" fill="#4ab6e8" textLength="58.6" lengthAdjust="spacingAndGlyphs">RSI3:11.17</text>
<polyline points="94.5,503.5 100.5,499.9 106.5,497.7 112.5,495.5 118.5,492.8 124.5,492.2 130.5,492.2 136.5,492.4 142.5,492.4 148.5,497.2 154.5,497.2 160.5,497.5 166.5,497.5 172.5,497.5 178.5,497.2 184.5,497.2 190.5,498.1 196.5,498.1 202.5,497.7 208.5,500.2 214.5,503.1 220.5,504.4 226.5,503.9 232.5,500.8 238.5,497.7 244.5,495.1 250.5,493.5 256.5,492.8 262.5,494.2 268.5,495.1 274.5,495.5 280.5,497.2 286.5,499.1 292.5,499.1 298.5,496.8 304.5,494.6 310.5,492.4 316.5,490.8 322.5,490.0 328.5,489.2 334.5,489.5 340.5,490.6 346.5,490.8 352.5,493.2 358.5,497.2 364.5,500.1 370.5,504.8 376.5,507.0 382.5,509.4 388.5,510.8 394.5,511.4 400.5,511.4 406.5,510.5 412.5,508.8 418.5,508.1 424.5,509.4 430.5,511.4 436.5,513.6 442.5,516.7 448.5,517.7 454.5,518.5 460.5,518.1 466.5,517.1 472.5,516.1 478.5,515.4 484.5,513.4 490.5,510.1 496.5,506.1 502.5,502.8 508.5,500.1 514.5,498.8 520.5,500.8 526.5,503.9 532.5,506.1 538.5,506.5 544.5,503.7 550.5,501.5 556.5,501.2 562.5,503.1 568.5,506.5 574.5,509.7 580.5,511.8 586.5,512.3 592.5,511.8 598.5,509.2 604.5,506.1 610.5,502.1 616.5,499.5 622.5,496.8 628.5,493.8 634.5,491.5 640.5,489.8 646.5,488.2 652.5,487.9 658.5,487.1 664.5,488.4 670.5,488.5 676.5,488.2 682.5,489.2 688.5,488.9 694.5,489.5 700.5,489.5 706.5,489.2 712.5,489.2 718.5,491.1 724.5,493.5" fill="none" stroke="#4cc07a" stroke-width="1" shape-rendering="crispEdges" />
<polyline points="94.5,498.1 100.5,494.6 106.5,494.2 112.5,491.1 118.5,488.5 124.5,488.5 130.5,491.5 136.5,493.5 142.5,493.5 148.5,501.5 154.5,501.2 160.5,498.1 166.5,497.7 172.5,497.5 178.5,495.5 184.5,497.2 190.5,499.5 196.5,498.1 202.5,496.4 208.5,503.8 214.5,506.5 220.5,508.4 226.5,503.1 232.5,498.1 238.5,493.2 244.5,490.6 250.5,489.2 256.5,491.1 262.5,494.2 268.5,497.2 274.5,496.4 280.5,500.4 286.5,503.1 292.5,498.5 298.5,494.6 304.5,490.2 310.5,488.9 316.5,487.1 322.5,487.1 328.5,487.1 334.5,490.2 340.5,490.8 346.5,494.2 352.5,498.8 358.5,501.2 364.5,503.9 370.5,510.1 376.5,513.1 382.5,513.4 388.5,514.5 394.5,512.3 400.5,512.1 406.5,508.8 412.5,506.5 418.5,507.4 424.5,511.4 430.5,515.4 436.5,517.6 442.5,520.3 448.5,520.3 454.5,520.0 460.5,516.7 466.5,514.5 472.5,515.4 478.5,510.8 484.5,508.8 490.5,505.4 496.5,500.8 502.5,496.4 508.5,494.6 514.5,498.5 520.5,506.1 526.5,510.5 532.5,509.2 538.5,506.1 544.5,497.8 550.5,496.4 556.5,500.8 562.5,506.5 568.5,513.4 574.5,516.3 580.5,516.3 586.5,513.4 592.5,511.8 598.5,506.1 604.5,500.1 610.5,495.9 616.5,494.2 622.5,492.8 628.5,489.5 634.5,487.5 640.5,486.6 646.5,485.3 652.5,487.5 658.5,486.4 664.5,488.6 670.5,489.8 676.5,487.9 682.5,490.2 688.5,488.9 694.5,490.6 700.5,490.2 706.5,488.9 712.5,489.5 718.5,493.5 724.5,498.5" fill="none" stroke="#3a86f0" stroke-width="1" shape-rendering="crispEdges" />
<polyline points="94.5,487.5 100.5,481.3 106.5,486.6 112.5,482.2 118.5,478.6 124.5,482.2 130.5,490.2 136.5,494.8 142.5,494.2 148.5,512.3 154.5,510.1 160.5,499.5 166.5,497.5 172.5,497.5 178.5,492.4 184.5,497.5 190.5,503.1 196.5,499.5 202.5,495.5 208.5,510.8 214.5,514.5 220.5,517.1 226.5,502.8 232.5,490.2 238.5,484.5 244.5,479.2 250.5,479.2 256.5,488.2 262.5,496.2 268.5,500.8 274.5,497.7 280.5,507.4 286.5,511.0 292.5,497.5 298.5,489.8 304.5,481.5 310.5,480.0 316.5,479.2 322.5,481.5 328.5,484.5 334.5,492.2 340.5,492.4 346.5,498.1 352.5,507.8 358.5,511.4 364.5,515.8 370.5,526.0 376.5,527.3 382.5,522.4 388.5,522.4 394.5,515.4 400.5,513.4 406.5,504.1 412.5,501.5 418.5,506.1 424.5,517.4 430.5,523.4 436.5,525.4 442.5,528.0 448.5,526.0 454.5,524.0 460.5,516.1 466.5,510.1 472.5,513.4 478.5,505.4 484.5,501.7 490.5,494.2 496.5,485.8 502.5,481.5 508.5,483.9 514.5,498.1 520.5,510.8 526.5,520.7 532.5,514.7 538.5,504.1 544.5,487.5 550.5,488.2 556.5,498.8 562.5,512.7 568.5,525.4 574.5,528.0 580.5,524.7 586.5,515.4 592.5,511.4 598.5,497.5 604.5,488.9 610.5,482.2 616.5,482.2 622.5,482.2 628.5,477.6 634.5,476.2 640.5,478.2 646.5,479.2 652.5,487.5 658.5,482.2 664.5,488.3 670.5,491.1 676.5,486.9 682.5,494.2 688.5,488.5 694.5,493.5 700.5,490.8 706.5,487.5 712.5,489.8 718.5,500.8 724.5,509.4" fill="none" stroke="#36aee6" stroke-width="1" shape-rendering="crispEdges" />
<text x="92.6" y="467" font-size="12" fill="#1a1a1a" textLength="55.9" lengthAdjust="spacingAndGlyphs">KDJ(9,3,3)</text>
<text x="153.6" y="467" font-size="12" fill="#4a8ff0" textLength="40.4" lengthAdjust="spacingAndGlyphs">K:59.33</text>
<text x="203.7" y="467" font-size="12" fill="#5ec48f" textLength="42" lengthAdjust="spacingAndGlyphs">D:71.72</text>
<text x="254" y="467" font-size="12" fill="#4ab6e8" textLength="39.1" lengthAdjust="spacingAndGlyphs">J:34.55</text>
<g transform="translate(29,460.6)">
<polygon points="-1.6,-3.9 1.6,-3.9 3.9,-1.6 3.9,1.6 1.6,3.9 -1.6,3.9 -3.9,1.6 -3.9,-1.6" fill="#fff" stroke="#000" stroke-width="1"/>
<circle cx="0" cy="0" r="1.9" fill="#ff0000"/>
<line x1="5.50" y1="0.00" x2="7.20" y2="0.00" stroke="#ff0000" stroke-width="1.1"/>
<line x1="3.89" y1="3.89" x2="5.09" y2="5.09" stroke="#ff0000" stroke-width="1.1"/>
<line x1="0.00" y1="5.50" x2="0.00" y2="7.20" stroke="#ff0000" stroke-width="1.1"/>
<line x1="-3.89" y1="3.89" x2="-5.09" y2="5.09" stroke="#ff0000" stroke-width="1.1"/>
<line x1="-5.50" y1="0.00" x2="-7.20" y2="0.00" stroke="#ff0000" stroke-width="1.1"/>
<line x1="-3.89" y1="-3.89" x2="-5.09" y2="-5.09" stroke="#ff0000" stroke-width="1.1"/>
<line x1="-0.00" y1="-5.50" x2="-0.00" y2="-7.20" stroke="#ff0000" stroke-width="1.1"/>
<line x1="3.89" y1="-3.89" x2="5.09" y2="-5.09" stroke="#ff0000" stroke-width="1.1"/>
</g>
<rect x="560" y="546" width="267" height="1" fill="#e8ebf0"/>
<rect x="20.5" y="529.5" width="69" height="19" fill="#fff" stroke="#ccd0d8" stroke-width="1"/>
<text x="33.8" y="544.5" font-size="13" font-weight="bold" fill="#ff7700" stroke="#ff7700" stroke-width="0.35">日线</text>
<polygon points="64.7,543.7 68.8,536 72.9,543.7" fill="#ff7700"/>
<rect x="178" y="530" width="1" height="5" fill="#c8ccd4"/>
<text x="180" y="542.3" font-size="12.5" font-weight="bold" fill="#222" textLength="44" lengthAdjust="spacingAndGlyphs">2024/03</text>
<rect x="298" y="530" width="1" height="5" fill="#c8ccd4"/>
<text x="300" y="542.3" font-size="12.5" font-weight="bold" fill="#222" textLength="44" lengthAdjust="spacingAndGlyphs">2024/04</text>
<rect x="430" y="530" width="1" height="5" fill="#c8ccd4"/>
<text x="432" y="542.3" font-size="12.5" font-weight="bold" fill="#222" textLength="44" lengthAdjust="spacingAndGlyphs">2024/05</text>
<rect x="568" y="530" width="1" height="5" fill="#c8ccd4"/>
<text x="570" y="542.3" font-size="12.5" font-weight="bold" fill="#222" textLength="44" lengthAdjust="spacingAndGlyphs">2024/06</text>
<rect x="688" y="530" width="1" height="5" fill="#c8ccd4"/>
<text x="690" y="542.3" font-size="12.5" font-weight="bold" fill="#222" textLength="44" lengthAdjust="spacingAndGlyphs">2024/07</text>
<text x="804.5" y="541.3" font-size="32" fill="#9a8470" opacity="0.6" style="filter:blur(0.7px)">F</text>
<text x="826.8" y="541.3" font-size="32" fill="#9a8470" opacity="0.6" style="filter:blur(0.7px)">X</text>
<text x="847.8" y="541.3" font-size="32" fill="#9a8470" opacity="0.6" style="filter:blur(0.7px)">6</text>
<text x="870.8" y="541.3" font-size="32" fill="#9a8470" opacity="0.6" style="filter:blur(0.7px)">7</text>
<text x="888.3" y="541.3" font-size="32" fill="#9a8470" opacity="0.6" style="filter:blur(0.7px)">8</text>
<text x="803.2" y="540" font-size="32" fill="#dce7f6">F</text>
<text x="825.5" y="540" font-size="32" fill="#dce7f6">X</text>
<text x="846.5" y="540" font-size="32" fill="#dce7f6">6</text>
<text x="869.5" y="540" font-size="32" fill="#dce7f6">7</text>
<text x="887" y="540" font-size="32" fill="#dce7f6">8</text>
<rect x="20" y="549" width="913" height="1.5" fill="#c8ccd4"/>
<rect x="20" y="550" width="39" height="15" fill="#ff6600"/>
<rect x="59" y="550" width="1" height="15" fill="#c8ccd4"/>
<text x="40.0" y="561.3" font-size="12.5" fill="#fff" text-anchor="middle">指标</text>
<rect x="99" y="550" width="1" height="15" fill="#c8ccd4"/>
<text x="79.5" y="561.3" font-size="12.5" fill="#222" text-anchor="middle">模板</text>
<rect x="158" y="550" width="1" height="15" fill="#c8ccd4"/>
<text x="107.5" y="560" font-size="12" fill="#ff7700" font-family='"Liberation Mono", monospace' textLength="17" lengthAdjust="spacingAndGlyphs">VIP</text>
<text x="124.5" y="561.3" font-size="12.5" fill="#ff7700">指标</text>
<rect x="186" y="550" width="1" height="15" fill="#c8ccd4"/>
<text x="172.5" y="560" font-size="12" fill="#222" text-anchor="middle" font-family='"Liberation Mono", monospace' textLength="11.5" lengthAdjust="spacingAndGlyphs">MA</text>
<rect x="226" y="550" width="1" height="15" fill="#c8ccd4"/>
<text x="206.5" y="560" font-size="12" fill="#222" text-anchor="middle" font-family='"Liberation Mono", monospace' textLength="23.5" lengthAdjust="spacingAndGlyphs">MACD</text>
<rect x="266" y="550" width="1" height="15" fill="#c8ccd4"/>
<text x="246.5" y="560" font-size="12" fill="#222" text-anchor="middle" font-family='"Liberation Mono", monospace' textLength="23.5" lengthAdjust="spacingAndGlyphs">BOLL</text>
<rect x="299" y="550" width="1" height="15" fill="#c8ccd4"/>
<text x="283.0" y="560" font-size="12" fill="#222" text-anchor="middle" font-family='"Liberation Mono", monospace' textLength="17.5" lengthAdjust="spacingAndGlyphs">VOL</text>
<rect x="339" y="550" width="1" height="15" fill="#c8ccd4"/>
<text x="319.5" y="560" font-size="12" fill="#222" text-anchor="middle" font-family='"Liberation Mono", monospace' textLength="23.5" lengthAdjust="spacingAndGlyphs">BIAS</text>
<rect x="373" y="550" width="1" height="15" fill="#c8ccd4"/>
<text x="356.5" y="560" font-size="12" fill="#222" text-anchor="middle" font-family='"Liberation Mono", monospace' textLength="17.5" lengthAdjust="spacingAndGlyphs">CCI</text>
<rect x="407" y="550" width="1" height="15" fill="#c8ccd4"/>
<text x="390.5" y="560" font-size="12" fill="#222" text-anchor="middle" font-family='"Liberation Mono", monospace' textLength="17.5" lengthAdjust="spacingAndGlyphs">KDJ</text>
<rect x="448" y="550" width="1" height="15" fill="#c8ccd4"/>
<text x="428.0" y="560" font-size="12" fill="#222" text-anchor="middle" font-family='"Liberation Mono", monospace' textLength="17.5" lengthAdjust="spacingAndGlyphs">LW&amp;</text>
<rect x="482" y="550" width="1" height="15" fill="#c8ccd4"/>
<text x="465.5" y="560" font-size="12" fill="#222" text-anchor="middle" font-family='"Liberation Mono", monospace' textLength="17.5" lengthAdjust="spacingAndGlyphs">RSI</text>
<rect x="510" y="550" width="1" height="15" fill="#c8ccd4"/>
<text x="496.5" y="560" font-size="12" fill="#222" text-anchor="middle" font-family='"Liberation Mono", monospace' textLength="11.5" lengthAdjust="spacingAndGlyphs">CR</text>
<rect x="543" y="550" width="1" height="15" fill="#c8ccd4"/>
<text x="527.0" y="560" font-size="12" fill="#222" text-anchor="middle" font-family='"Liberation Mono", monospace' textLength="17.5" lengthAdjust="spacingAndGlyphs">PSY</text>
<rect x="583" y="550" width="1" height="15" fill="#c8ccd4"/>
<text x="563.5" y="561.3" font-size="12.5" fill="#222" text-anchor="middle">设置</text>
<rect x="583" y="564" width="350" height="1" fill="#c8ccd4"/>
</svg>
</body></html>
